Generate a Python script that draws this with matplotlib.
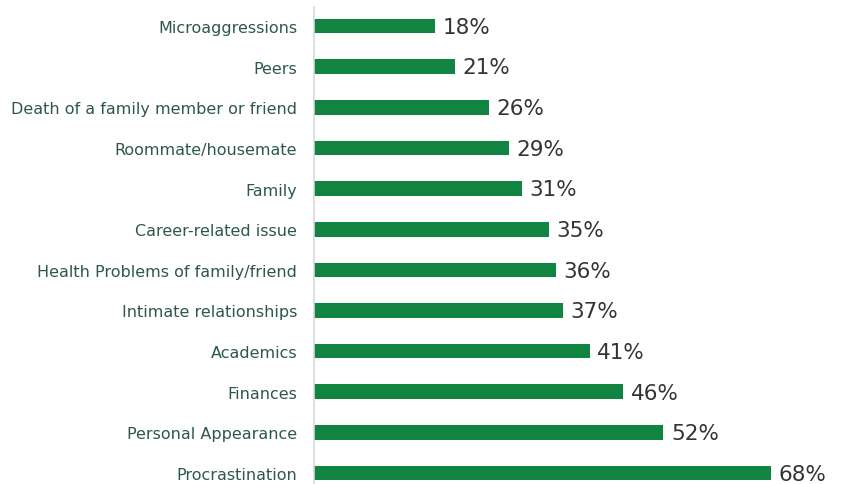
import matplotlib.pyplot as plt

categories = ["Microaggressions", "Peers", "Death of a family member or friend",
              "Roommate/housemate", "Family", "Career-related issue",
              "Health Problems of family/friend", "Intimate relationships",
              "Academics", "Finances", "Personal Appearance", "Procrastination"]
values = [18, 21, 26, 29, 31, 35, 36, 37, 41, 46, 52, 68]

bar_color = "#118442"
label_color = "#2e5848"
value_color = "#333333"

fig = plt.figure(figsize=(8.43, 4.85), dpi=100)
ax = fig.add_axes([314 / 843, 0, 529 / 843, 477 / 485])

pos = list(range(len(categories)))
ax.barh(pos, values, height=0.36, color=bar_color)
for p, v in zip(pos, values):
    ax.text(v + 1.1, p + 0.02, f"{v}%", va="center", ha="left",
            fontsize=15.5, color=value_color, family="DejaVu Sans")

ax.set_xlim(0, 529 / 6.72)
ax.set_ylim(11.27, -0.4675)
ax.set_yticks(pos)
ax.set_yticklabels(categories, fontsize=11.5, color=label_color, family="DejaVu Sans")
ax.tick_params(axis="y", length=0, pad=12)
ax.set_xticks([])
for s in ["top", "right", "bottom"]:
    ax.spines[s].set_visible(False)
ax.spines["left"].set_color("#d9d9d9")
ax.spines["left"].set_linewidth(1.2)

fig.savefig("out.png", dpi=100)
